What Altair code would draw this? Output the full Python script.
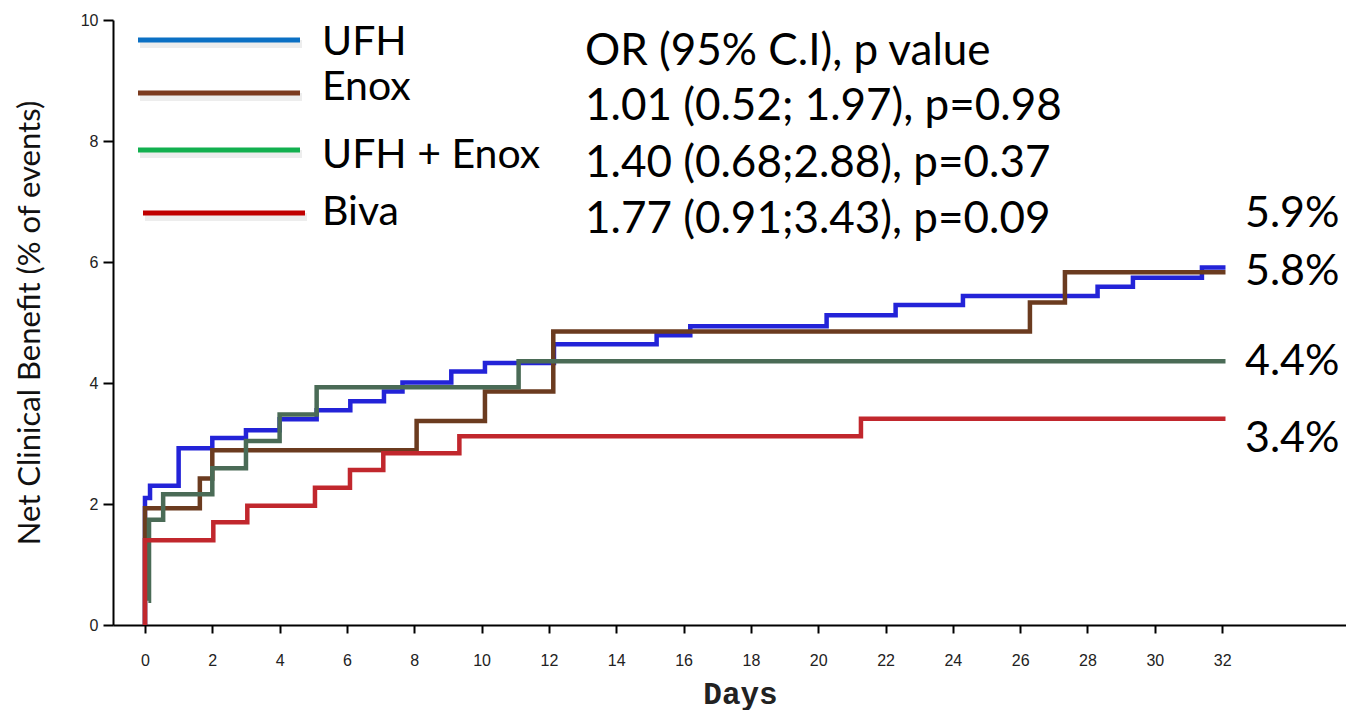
import altair as alt
import pandas as pd

# ---- data ----
series_names = ["UFH", "Enox", "UFH + Enox", "Biva"]

ufh_days = [0, 0, 0.15, 1.0, 2.0, 3.0, 4.0, 5.1, 6.1, 7.1, 7.65, 9.1, 10.1, 12.15, 15.2, 16.2, 20.25, 22.3, 24.3, 28.3, 29.35, 31.4, 32.1]
ufh_vals = [0, 2.1, 2.3, 2.92, 3.09, 3.22, 3.40, 3.55, 3.70, 3.86, 4.01, 4.19, 4.33, 4.64, 4.79, 4.94, 5.12, 5.29, 5.44, 5.59, 5.74, 5.91, 5.91]

enox_days = [0, 0, 1.63, 2.0, 8.07, 10.1, 12.13, 26.29, 27.33, 32.1]
enox_vals = [0, 1.93, 2.42, 2.89, 3.37, 3.86, 4.85, 5.33, 5.83, 5.83]

combo_days = [0.1, 0.12, 0.54, 2.0, 3.0, 4.0, 5.1, 11.1, 32.1]
combo_vals = [0.4, 1.74, 2.16, 2.59, 3.04, 3.48, 3.93, 4.36, 4.36]

biva_days = [0, 0, 2.03, 3.04, 5.05, 6.09, 7.08, 9.34, 21.27, 32.1]
biva_vals = [0, 1.40, 1.70, 1.97, 2.27, 2.56, 2.84, 3.12, 3.41, 3.41]

line_colors = ["#2323d8", "#6b3b1f", "#4a6b56", "#c1272d"]
legend_colors = ["#0b70c4", "#7b3a1e", "#12b04f", "#c00000"]

stats_lines = [
    "OR (95% C.I), p value",
    "1.01 (0.52; 1.97), p=0.98",
    "1.40 (0.68;2.88), p=0.37",
    "1.77 (0.91;3.43), p=0.09",
]
end_labels = ["5.9%", "5.8%", "4.4%", "3.4%"]

x_ticks = list(range(0, 33, 2))
y_ticks = [0, 2, 4, 6, 8, 10]

# ---- layout constants ----
W, H = 1233, 605
TEXT_FONT = "Lato"

x_scale = alt.Scale(domain=[-0.95, 35.68], nice=False, zero=False)
y_scale = alt.Scale(domain=[0, 10], nice=False)

x_axis = alt.Axis(
    values=x_ticks, title="Days", grid=False,
    domainColor="black", domainWidth=2, tickColor="black", tickWidth=2, tickSize=8,
    labelFont="Liberation Sans", labelFontSize=16, labelColor="#222222", labelPadding=19,
    labelFlush=False,
    titleFont="Liberation Mono", titleFontSize=31, titleFontWeight="bold", titleColor="#222222",
    titleX=627, titleY=69, titleAlign="center", titleBaseline="middle",
)
y_axis = alt.Axis(
    values=y_ticks, title="Net Clinical Benefit (% of events)", grid=False,
    domainColor="black", domainWidth=2, tickColor="black", tickWidth=2, tickSize=10,
    labelFont="Liberation Sans", labelFontSize=16, labelColor="#222222", labelPadding=5,
    titleFont=TEXT_FONT, titleFontSize=31, titleFontWeight="normal", titleColor="#111111",
    titleX=-83, titleY=H / 2, titleAngle=270, titleAlign="center", titleBaseline="middle",
)

all_days = [ufh_days, enox_days, combo_days, biva_days]
all_vals = [ufh_vals, enox_vals, combo_vals, biva_vals]

layers = []
for i, name in enumerate(series_names):
    df = pd.DataFrame({"day": all_days[i], "value": all_vals[i], "series": name, "order": range(len(all_days[i]))})
    layers.append(
        alt.Chart(df).mark_line(interpolate="step-after", strokeWidth=4.5, color=line_colors[i]).encode(
            x=alt.X("day:Q", scale=x_scale, axis=x_axis),
            y=alt.Y("value:Q", scale=y_scale, axis=y_axis),
            order="order:Q",
        )
    )

# manual legend
leg_line_y = [20, 73, 130, 193]
leg_text_y = [35, 80, 148, 205]
leg_x0 = [25, 25, 25, 30]
for i, name in enumerate(series_names):
    d = pd.DataFrame({"label": [name]})
    layers.append(
        alt.Chart(d).mark_rule(strokeWidth=8, color="#000000", opacity=0.07).encode(
            x=alt.value(leg_x0[i] + 2), x2=alt.value(leg_x0[i] + 164), y=alt.value(leg_line_y[i] + 4)
        )
    )
    layers.append(
        alt.Chart(d).mark_rule(strokeWidth=5, color=legend_colors[i]).encode(
            x=alt.value(leg_x0[i]), x2=alt.value(leg_x0[i] + 162), y=alt.value(leg_line_y[i])
        )
    )
    layers.append(
        alt.Chart(d).mark_text(font=TEXT_FONT, fontSize=41, align="left", baseline="alphabetic", color="black").encode(
            text="label:N", x=alt.value(209), y=alt.value(leg_text_y[i])
        )
    )

stats_y = [45, 100, 157, 213]
for i, s in enumerate(stats_lines):
    d = pd.DataFrame({"label": [s]})
    layers.append(
        alt.Chart(d).mark_text(font=TEXT_FONT, fontSize=44, align="left", baseline="alphabetic", color="black").encode(
            text="label:N", x=alt.value(472), y=alt.value(stats_y[i])
        )
    )

end_y = [207, 265, 355, 432]
for i, s in enumerate(end_labels):
    d = pd.DataFrame({"label": [s]})
    layers.append(
        alt.Chart(d).mark_text(font=TEXT_FONT, fontSize=43, align="left", baseline="alphabetic", color="black").encode(
            text="label:N", x=alt.value(1132), y=alt.value(end_y[i])
        )
    )

chart = alt.layer(*layers).properties(
    width=W, height=H,
    autosize=alt.AutoSizeParams(type="none"),
    padding={"left": 105, "top": 12, "right": 0, "bottom": 86},
).configure(background="white").configure_view(stroke=None)

chart.save("out.html", embed_options={"renderer": "svg", "actions": False})
